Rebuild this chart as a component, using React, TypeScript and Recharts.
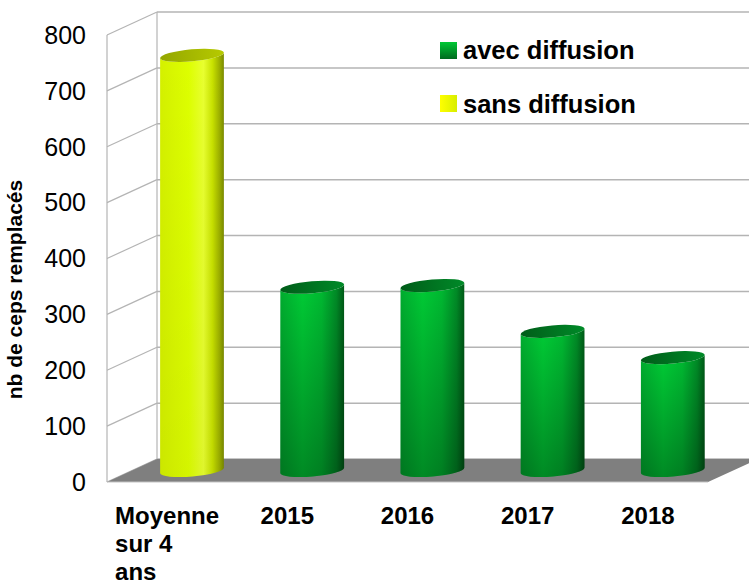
import React from 'react';
import { BarChart, Bar, XAxis, YAxis, CartesianGrid, ReferenceArea, Legend, Label } from 'recharts';

const categories = ['Moyenne\nsur 4\nans', '2015', '2016', '2017', '2018'];
const avecDiffusion = [0, 328, 331, 249, 202];
const sansDiffusion = [743, 0, 0, 0, 0];
const yTicks = [0, 100, 200, 300, 400, 500, 600, 700, 800];

const data = categories.map((cat, i) => ({ cat, avec: avecDiffusion[i], sans: sansDiffusion[i] }));

const FONT = '"Liberation Sans", Arial, Helvetica, sans-serif';
const DEPTH_X = 50;
const DEPTH_Y = -23;
const GRID = '#b4b4b4';
const TILT = -5;

let ctx: CanvasRenderingContext2D | null = null;
const measure = (text: string, font: string) => {
  if (!ctx) ctx = document.createElement('canvas').getContext('2d');
  if (!ctx) return text.length * 14;
  ctx.font = font;
  return ctx.measureText(text).width;
};

const palettes: Record<string, any> = {
  green: {
    h: [['0', '#00ad2f'], ['0.35', '#00cb35'], ['0.65', '#00b931'], ['0.88', '#008a26'], ['1', '#005a17']],
    shade: 0.32,
    top: ['#005c19', '#008a28'],
  },
  yellow: {
    h: [['0', '#d4f000'], ['0.45', '#ddff00'], ['0.68', '#e8ff30'], ['0.82', '#c8e200'], ['0.93', '#9db000'], ['1', '#7a8a00']],
    shade: 0.04,
    top: ['#94a600', '#b6ca00'],
  },
};

const makeCylinder = (kind: string) => (props: any) => {
  const { x, y, width, height, index } = props;
  if (!height || height < 1) return <g />;
  const pal = palettes[kind];
  const rx = width / 2;
  const ry = 6;
  const cx = x + rx + DEPTH_X / 2;
  const topY = y + DEPTH_Y / 2;
  const botY = y + height + DEPTH_Y / 2;
  const rad = (TILT * Math.PI) / 180;
  const dx = rx * Math.cos(rad);
  const dy = rx * Math.sin(rad);
  const id = `cyl-${kind}-${index}`;
  const body = `M ${cx - dx} ${topY - dy} L ${cx - dx} ${botY - dy} A ${rx} ${ry} ${TILT} 0 0 ${cx + dx} ${botY + dy} L ${cx + dx} ${topY + dy} A ${rx} ${ry} ${TILT} 0 1 ${cx - dx} ${topY - dy} Z`;
  return (
    <g>
      <defs>
        <linearGradient id={`${id}-h`} x1="0" y1="0" x2="1" y2="0">
          {pal.h.map(([o, c]: string[]) => (
            <stop key={o} offset={o} stopColor={c} />
          ))}
        </linearGradient>
        <linearGradient id={`${id}-v`} x1="0" y1="0" x2="0" y2="1">
          <stop offset="0" stopColor="#000" stopOpacity={0} />
          <stop offset="1" stopColor="#000" stopOpacity={pal.shade} />
        </linearGradient>
        <linearGradient id={`${id}-t`} x1="0" y1="0" x2="1" y2="0">
          <stop offset="0" stopColor={pal.top[0]} />
          <stop offset="1" stopColor={pal.top[1]} />
        </linearGradient>
      </defs>
      <path d={body} fill={`url(#${id}-h)`} />
      <path d={body} fill={`url(#${id}-v)`} />
      <ellipse
        cx={cx}
        cy={topY}
        rx={rx}
        ry={ry}
        transform={`rotate(${TILT} ${cx} ${topY})`}
        fill={`url(#${id}-t)`}
      />
    </g>
  );
};

const greenCylinder = makeCylinder('green');
const yellowCylinder = makeCylinder('yellow');

// back wall gridlines + side wall diagonals
const renderWallLine = (props: any) => {
  const { x1, x2, y1, index } = props;
  return (
    <g key={`wall-${index}`}>
      <line x1={x1} y1={y1} x2={x1 + DEPTH_X} y2={y1 + DEPTH_Y} stroke={GRID} strokeWidth={1.2} />
      <line x1={x1 + DEPTH_X} y1={y1 + DEPTH_Y} x2={x2 + DEPTH_X} y2={y1 + DEPTH_Y} stroke={GRID} strokeWidth={1.5} />
    </g>
  );
};

// floor + wall edges
const renderFrame = (props: any) => {
  const { x, y, width, height } = props;
  const bottom = y + height;
  return (
    <g>
      <polygon
        points={`${x},${bottom} ${x + width},${bottom} ${x + width + DEPTH_X},${bottom + DEPTH_Y} ${x + DEPTH_X},${bottom + DEPTH_Y}`}
        fill="#7f7f7f"
      />
      <line x1={x} y1={bottom} x2={x + width} y2={bottom} stroke="#c4c4c4" strokeWidth={1.2} />
      <line x1={x} y1={y} x2={x} y2={bottom} stroke={GRID} strokeWidth={1.2} />
      <line x1={x + DEPTH_X} y1={y + DEPTH_Y} x2={x + DEPTH_X} y2={bottom + DEPTH_Y} stroke={GRID} strokeWidth={1.2} />
    </g>
  );
};

const renderYTick = ({ x, y, payload }: any) => (
  <text x={x} y={y} dy="0.35em" textAnchor="end" fontFamily={FONT} fontSize={25} fill="#000">
    {payload.value}
  </text>
);

const renderXTick = ({ x, y, payload }: any) => {
  const lines = String(payload.value).split('\n');
  const font = `bold 24px ${FONT}`;
  let tx = x;
  let anchor: 'middle' | 'start' = 'middle';
  if (lines.length > 1) {
    const w = Math.max(...lines.map((l) => measure(l, font)));
    tx = x - w / 2;
    anchor = 'start';
  }
  return (
    <text x={tx} y={y} textAnchor={anchor} fontFamily={FONT} fontWeight="bold" fontSize={24} fill="#000">
      {lines.map((l, i) => (
        <tspan key={i} x={tx} dy={i === 0 ? 0 : 28}>
          {l}
        </tspan>
      ))}
    </text>
  );
};

const renderYTitle = (props: any) => {
  const vb = props.viewBox || { y: 35, height: 447 };
  const cy = vb.y + vb.height / 2 + 31;
  return (
    <text
      transform={`translate(22, ${cy}) rotate(-90)`}
      textAnchor="middle"
      fontFamily={FONT}
      fontWeight="bold"
      fontSize={21}
      fill="#000"
    >
      nb de ceps remplacés
    </text>
  );
};

const swatches: Record<string, string> = {
  avec: 'linear-gradient(to bottom, #00c835, #006a1e)',
  sans: 'linear-gradient(to right, #ffff00, #d8ee00)',
};

const renderLegend = (props: any) => {
  const { payload = [] } = props;
  return (
    <div style={{ fontFamily: FONT, fontWeight: 'bold', fontSize: 25.5, color: '#000' }}>
      {payload.map((entry: any, i: number) => (
        <div key={i} style={{ display: 'flex', alignItems: 'center', height: 30, marginBottom: 23.5 }}>
          <span style={{ display: 'inline-block', width: 17, height: 17, background: swatches[entry.dataKey], marginRight: 6 }} />
          <span style={{ lineHeight: '30px', whiteSpace: 'nowrap' }}>{entry.value}</span>
        </div>
      ))}
    </div>
  );
};

export default function App() {
  return (
    <div style={{ position: 'absolute', left: 0, top: 0, background: '#fff' }}>
      <BarChart width={749} height={586} data={data} margin={{ top: 35, right: 41, bottom: 44, left: 0 }}>
        <CartesianGrid vertical={false} horizontal={renderWallLine} />
        <ReferenceArea y1={0} y2={800} shape={renderFrame} ifOverflow="visible" zIndex={-50} />
        <XAxis
          dataKey="cat"
          height={60}
          interval={0}
          axisLine={false}
          tickLine={false}
          tickSize={0}
          tickMargin={42}
          tick={renderXTick}
        />
        <YAxis
          width={107}
          domain={[0, 800]}
          ticks={yTicks}
          interval={0}
          axisLine={false}
          tickLine={false}
          tickSize={0}
          tickMargin={21}
          tick={renderYTick}
        >
          <Label content={renderYTitle} />
        </YAxis>
        <Legend
          layout="vertical"
          align="center"
          verticalAlign="middle"
          content={renderLegend}
          wrapperStyle={{ left: 440, top: 35, width: 'auto' }}
        />
        <Bar dataKey="avec" name="avec diffusion" stackId="s" barSize={64} fill="#00b030" shape={greenCylinder} isAnimationActive={false} />
        <Bar dataKey="sans" name="sans diffusion" stackId="s" barSize={64} fill="#e6ff00" shape={yellowCylinder} isAnimationActive={false} />
      </BarChart>
    </div>
  );
}
